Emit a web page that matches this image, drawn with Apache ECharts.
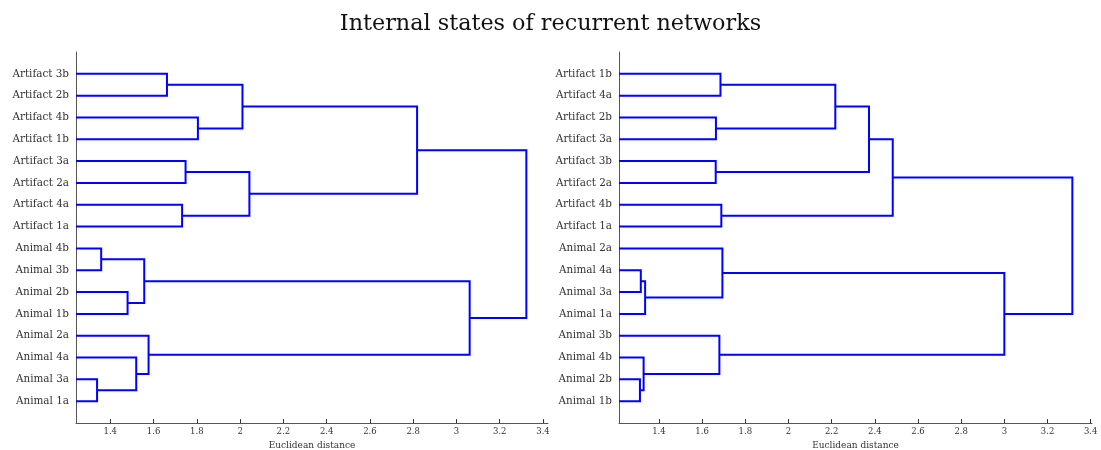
<!DOCTYPE html>
<html>
<head>
<meta charset="utf-8">
<script src="https://cdn.jsdelivr.net/npm/echarts@6/dist/echarts.min.js"></script>
<style>
html,body{margin:0;padding:0;background:#fff;}
#chart{width:1101px;height:450px;}
</style>
</head>
<body>
<div id="chart"></div>
<script>
// ---------- data ----------
const title = 'Internal states of recurrent networks';
const xAxisName = 'Euclidean distance';
const xTicks = [1.4, 1.6, 1.8, 2, 2.2, 2.4, 2.6, 2.8, 3, 3.2, 3.4];

const leftLabels = ['Artifact 3b','Artifact 2b','Artifact 4b','Artifact 1b','Artifact 3a','Artifact 2a','Artifact 4a','Artifact 1a',
                    'Animal 4b','Animal 3b','Animal 2b','Animal 1b','Animal 2a','Animal 4a','Animal 3a','Animal 1a'];
// merges: [child A, child B, distance]; leaves are 0..15, new clusters numbered 16, 17, ...
const leftMerges = [
  [14, 15, 1.339],
  [8, 9, 1.358],
  [10, 11, 1.480],
  [13, 16, 1.520],
  [17, 18, 1.557],
  [12, 19, 1.577],
  [0, 1, 1.662],
  [6, 7, 1.732],
  [4, 5, 1.748],
  [2, 3, 1.805],
  [22, 25, 2.011],
  [24, 23, 2.043],
  [26, 27, 2.818],
  [20, 21, 3.061],
  [28, 29, 3.323]
];
const leftRange = [1.2416, 3.423];

const rightLabels = ['Artifact 1b','Artifact 4a','Artifact 2b','Artifact 3a','Artifact 3b','Artifact 2a','Artifact 4b','Artifact 1a',
                     'Animal 2a','Animal 4a','Animal 3a','Animal 1a','Animal 3b','Animal 4b','Animal 2b','Animal 1b'];
const rightMerges = [
  [14, 15, 1.312],
  [9, 10, 1.316],
  [13, 16, 1.329],
  [17, 11, 1.336],
  [4, 5, 1.663],
  [2, 3, 1.664],
  [12, 18, 1.680],
  [0, 1, 1.685],
  [6, 7, 1.689],
  [8, 19, 1.694],
  [23, 21, 2.217],
  [26, 20, 2.373],
  [27, 24, 2.483],
  [25, 22, 3.000],
  [28, 29, 3.315]
];
const rightRange = [1.215, 3.406];

// ---------- build dendrogram polylines ----------
function buildLinks(labels, merges, xmin) {
  const n = labels.length;
  const pos = [], hgt = [];
  for (let i = 0; i < n; i++) { pos.push(i + 1); hgt.push(xmin); }
  const out = [];
  merges.forEach(m => {
    const a = m[0], b = m[1], h = m[2];
    out.push({ coords: [[hgt[a], pos[a]], [h, pos[a]], [h, pos[b]], [hgt[b], pos[b]]] });
    pos.push((pos[a] + pos[b]) / 2);
    hgt.push(h);
  });
  return out;
}

const serif = "'DejaVu Serif', 'Liberation Serif', serif";

function xAxisCfg(idx, range) {
  return {
    type: 'value', gridIndex: idx, min: range[0], max: range[1],
    name: xAxisName, nameLocation: 'middle', nameGap: 12,
    nameTextStyle: { fontFamily: serif, fontSize: 9, color: '#333' },
    axisLine: { show: true, onZero: false, lineStyle: { color: '#555', width: 1 } },
    axisTick: { show: true, inside: true, length: 4, lineStyle: { color: '#333' },
      customValues: xTicks },
    axisLabel: { fontFamily: serif, fontSize: 8.5, color: '#333', margin: 4,
      customValues: xTicks, formatter: v => String(Math.round(v * 10) / 10) },
    splitLine: { show: false }
  };
}
function yAxisCfg(idx, labels) {
  return {
    type: 'value', gridIndex: idx, min: 0, max: 17, interval: 1, inverse: true,
    axisLine: { show: true, lineStyle: { color: '#555', width: 1 } },
    axisTick: { show: false },
    axisLabel: { fontFamily: serif, fontSize: 10.4, color: '#333', margin: 7,
      formatter: v => labels[v - 1] || '' },
    splitLine: { show: false }
  };
}

const chart = echarts.init(document.getElementById('chart'), null, { renderer: 'canvas' });
chart.setOption({
  backgroundColor: '#fff',
  animation: false,
  title: {
    text: title, left: 'center', top: 8,
    textStyle: { fontFamily: serif, fontSize: 22.3, fontWeight: 'normal', color: '#111' }
  },
  grid: [
    { left: 76, right: 553, top: 52, bottom: 27, containLabel: false, outerBoundsMode: 'none' },
    { left: 619, right: 9, top: 52, bottom: 27, containLabel: false, outerBoundsMode: 'none' }
  ],
  xAxis: [xAxisCfg(0, leftRange), xAxisCfg(1, rightRange)],
  yAxis: [yAxisCfg(0, leftLabels), yAxisCfg(1, rightLabels)],
  series: [
    { type: 'lines', coordinateSystem: 'cartesian2d', xAxisIndex: 0, yAxisIndex: 0, polyline: true,
      lineStyle: { color: '#0000ff', width: 2, opacity: 1 }, data: buildLinks(leftLabels, leftMerges, leftRange[0]) },
    { type: 'lines', coordinateSystem: 'cartesian2d', xAxisIndex: 1, yAxisIndex: 1, polyline: true,
      lineStyle: { color: '#0000ff', width: 2, opacity: 1 }, data: buildLinks(rightLabels, rightMerges, rightRange[0]) }
  ]
});
</script>
</body>
</html>
